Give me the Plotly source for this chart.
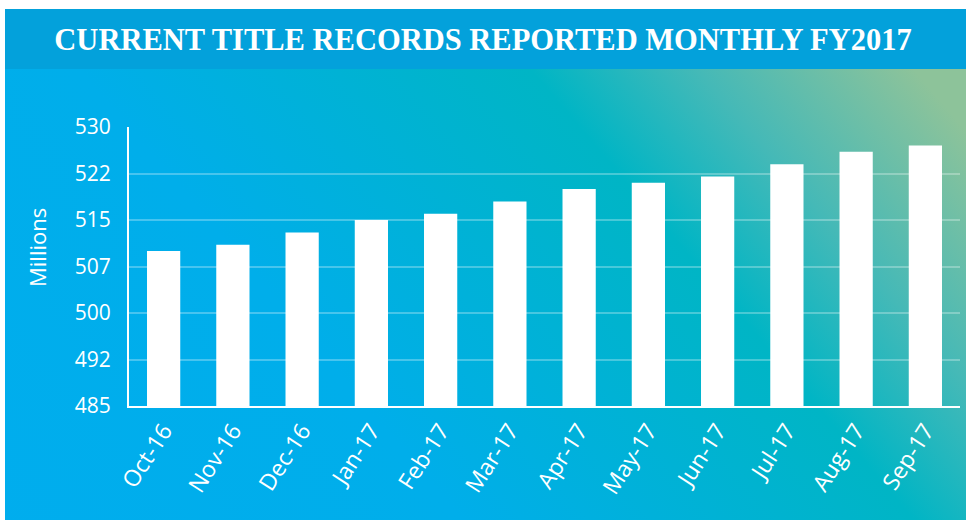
import base64
import plotly.graph_objects as go

# ---- data ----
months = ["Oct-16", "Nov-16", "Dec-16", "Jan-17", "Feb-17", "Mar-17",
          "Apr-17", "May-17", "Jun-17", "Jul-17", "Aug-17", "Sep-17"]
records = [510, 511, 513, 515, 516, 518, 520, 521, 522, 524, 526, 527]
y_tickvals = [485, 492.5, 500, 507.5, 515, 522.5, 530]
y_ticktext = ["485", "492", "500", "507", "515", "522", "530"]
title_text = "CURRENT TITLE RECORDS REPORTED MONTHLY FY2017"
y_title = "Millions"

# ---- geometry (pixels) ----
W, H = 966, 520
ML, MR, MT, MB = 129, 6, 127, 114
PW, PH = W - ML - MR, H - MT - MB

svg = f"""<svg xmlns='http://www.w3.org/2000/svg' width='{W}' height='{H}' viewBox='0 0 {W} {H}' preserveAspectRatio='none'>
<defs>
<linearGradient id='g' gradientUnits='userSpaceOnUse' x1='-218' y1='259' x2='563' y2='-406'>
<stop offset='0' stop-color='#00ADEE'/>
<stop offset='0.38' stop-color='#00AEEA'/>
<stop offset='0.715' stop-color='#00B5C5'/>
<stop offset='0.84' stop-color='#45B9B7'/>
<stop offset='1' stop-color='#8DC39A'/>
</linearGradient>
</defs>
<rect x='0' y='0' width='{W}' height='{H}' fill='#ffffff'/>
<rect x='5' y='9' width='961' height='60' fill='#03A1DB'/>
<g transform='translate(5,69)'><rect x='0' y='0' width='961' height='451' fill='url(#g)'/></g>
</svg>"""
src = "data:image/svg+xml;base64," + base64.b64encode(svg.encode()).decode()

fig = go.Figure(go.Bar(x=months, y=records, marker=dict(color="white", line=dict(width=0)),
                       hoverinfo="x+y"))

fig.add_layout_image(dict(source=src, xref="paper", yref="paper",
                          x=-ML / PW, y=1 + MT / PH, sizex=W / PW, sizey=H / PH,
                          xanchor="left", yanchor="top", sizing="stretch", layer="below"))

fig.update_layout(
    width=W, height=H,
    margin=dict(l=ML, r=MR, t=MT, b=MB),
    paper_bgcolor="white", plot_bgcolor="rgba(0,0,0,0)",
    bargap=0.52, showlegend=False,
    title=dict(text="<b>" + title_text + "</b>", x=0.5, xref="container", xanchor="center",
               y=1 - 39 / H, yref="container", yanchor="middle",
               font=dict(family="Liberation Serif", size=30.5, color="white")),
    font=dict(family="Open Sans", color="white"),
)
fig.update_yaxes(range=[485, 530], tickvals=y_tickvals, ticktext=y_ticktext,
                 tickfont=dict(size=21, color="white", family="Open Sans"),
                 showgrid=True, gridcolor="rgba(255,255,255,0.28)", gridwidth=2,
                 showline=True, linecolor="white", linewidth=2, zeroline=False,
                 ticks="", ticklabelstandoff=12)
fig.update_xaxes(tickangle=-57, tickfont=dict(size=23, color="white", family="Open Sans"),
                 showline=True, linecolor="white", linewidth=2, showgrid=False, ticks="")
fig.add_annotation(text=y_title, xref="paper", yref="paper",
                   x=(37 - ML) / PW, y=(MT + PH - 248) / PH, textangle=-90,
                   showarrow=False, xanchor="center", yanchor="middle",
                   font=dict(family="Open Sans", size=22, color="white"))

fig.write_html("out.html", config={"displayModeBar": False},
               post_script="document.body.style.margin='0';document.body.style.overflow='hidden';")
